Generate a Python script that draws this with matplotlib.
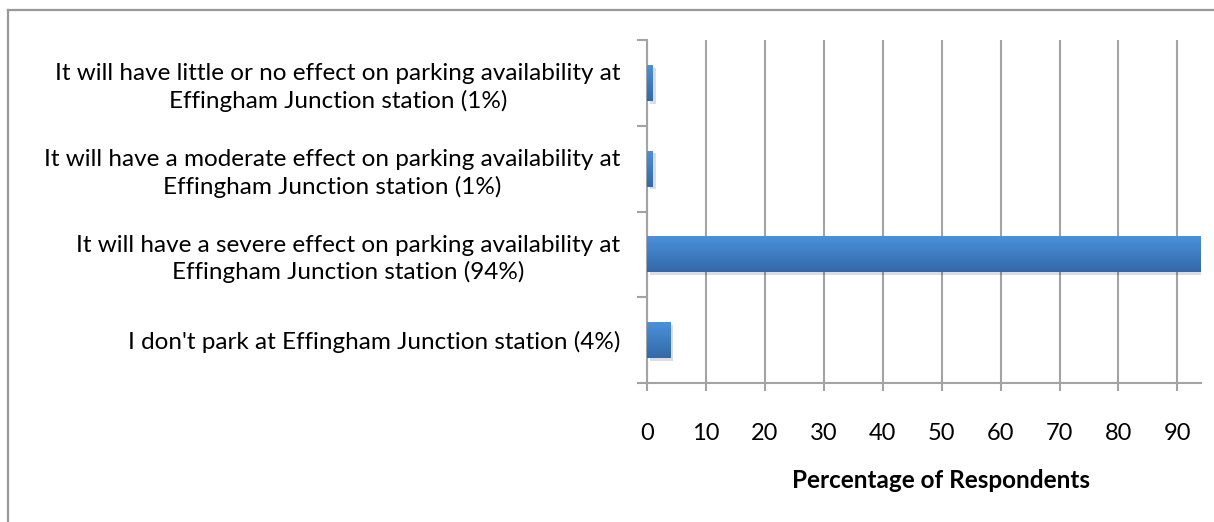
import numpy as np
import matplotlib
matplotlib.use("Agg")
import matplotlib.pyplot as plt
from matplotlib.colors import LinearSegmentedColormap
from matplotlib.lines import Line2D
import matplotlib.patheffects as pe

plt.rcParams['font.family'] = ['Lato', 'DejaVu Sans']

labels = [
    "It will have little or no effect on parking availability at\nEffingham Junction station (1%)",
    "It will have a moderate effect on parking availability at\nEffingham Junction station (1%)",
    "It will have a severe effect on parking availability at\nEffingham Junction station (94%)",
    "I don't park at Effingham Junction station (4%)",
]
values = [1, 1, 94, 4]

GRID = "#a3a3a3"

fig = plt.figure(figsize=(12.14, 5.22), dpi=100)
ax = fig.add_axes([647 / 1214, 1 - 383 / 522, (1201 - 647) / 1214, (383 - 40) / 522])

pos = np.arange(len(labels))
bars = ax.barh(pos, values, height=0.42, color="#3f7fc6", zorder=3,
               path_effects=[pe.SimplePatchShadow(offset=(2, -2), alpha=0.15),
                             pe.Normal()])

# vertical gradient inside each bar, like the Excel fill
cmap = LinearSegmentedColormap.from_list("bar", ["#4b92dc", "#3469a8"])
grad = np.linspace(0, 1, 64).reshape(-1, 1)
for b in bars:
    x0, y0 = b.get_x(), b.get_y()
    w, h = b.get_width(), b.get_height()
    im = ax.imshow(grad, cmap=cmap, aspect="auto", zorder=4,
                   extent=(x0, x0 + w, y0 + h, y0), origin="upper")
    im.set_clip_path(b)

ax.set_xlim(0, 94)
ax.set_ylim(len(labels) - 0.5, -0.5)

ax.set_xticks(np.arange(0, 91, 10))
ax.set_yticks(pos)
ax.set_yticklabels(labels, multialignment="center", fontsize=17.5, linespacing=1.3)
ax.set_yticks(np.arange(-0.5, len(labels), 1), minor=True)

ax.tick_params(axis="y", which="major", length=0, pad=19)
ax.tick_params(axis="y", which="minor", length=7, width=1.5, color=GRID)
ax.tick_params(axis="x", length=6, width=1.5, color=GRID, pad=23, labelsize=17)

ax.grid(axis="x", color=GRID, linewidth=1.5, zorder=0)
for side in ["top", "right"]:
    ax.spines[side].set_visible(False)
for side in ["left", "bottom"]:
    ax.spines[side].set_color(GRID)
    ax.spines[side].set_linewidth(1.5)

ax.set_xlabel("Percentage of Respondents", fontsize=17.5, fontweight="bold")
ax.xaxis.set_label_coords((941 - 647) / (1201 - 647), -0.25)

# outer chart frame
fig.add_artist(Line2D([8 / 1214, 8 / 1214], [0, 1 - 10 / 522], color="#999999", lw=1.6))
fig.add_artist(Line2D([8 / 1214, 1], [1 - 10 / 522, 1 - 10 / 522], color="#999999", lw=1.6))

fig.savefig("out.png", dpi=100)
